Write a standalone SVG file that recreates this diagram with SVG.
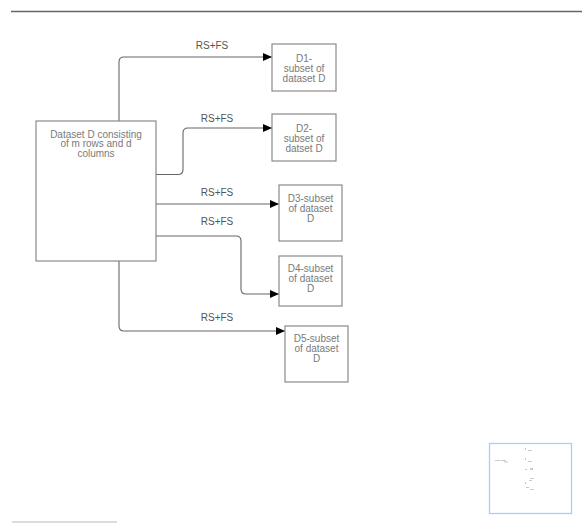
<svg xmlns="http://www.w3.org/2000/svg" width="582" height="523" viewBox="0 0 582 523">
<defs>
<marker id="arr" markerWidth="9" markerHeight="8" refX="9" refY="4" orient="auto" markerUnits="userSpaceOnUse">
<path d="M0,0 L9,4 L0,8 Z" fill="#000"/>
</marker>
<style>
.box{fill:#fff;stroke:#8a8a8a;stroke-width:1.2}
.t{font-family:"Liberation Sans",Arial,sans-serif;font-size:10px;fill:#7a7a7a;text-anchor:middle;dominant-baseline:central}
.lbl{font-family:"Liberation Sans",Arial,sans-serif;font-size:10px;fill:#555;text-anchor:middle;dominant-baseline:central}
.c{fill:none;stroke:#666;stroke-width:1.1;marker-end:url(#arr)}
.mm{fill:#c8c8c8}
</style>
</defs>
<rect width="582" height="523" fill="#fff"/>
<line x1="11" y1="11.5" x2="582" y2="11.5" stroke="#666" stroke-width="1.3"/>
<line x1="12" y1="522" x2="117" y2="522" stroke="#d0d0d0" stroke-width="1.5"/>

<g id="connectors">
<path class="c" d="M119,121 V62 Q119,57 124,57 H272"/>
<path class="c" d="M156,174.5 H178 Q183,174.5 183,169.5 V133 Q183,128 188,128 H272"/>
<path class="c" d="M156,204 H279"/>
<path class="c" d="M156,236 H236 Q241,236 241,241 V289 Q241,294 246,294 H279"/>
<path class="c" d="M119,261 V326 Q119,331 124,331 H285"/>
<text class="lbl" x="212" y="45">RS+FS</text>
<text class="lbl" x="217" y="118">RS+FS</text>
<text class="lbl" x="217" y="192">RS+FS</text>
<text class="lbl" x="217" y="221">RS+FS</text>
<text class="lbl" x="217" y="317">RS+FS</text>
</g>

<g id="dataset">
<rect class="box" x="36" y="121" width="120" height="140"/>
<text class="t" x="96" y="134">Dataset D consisting</text>
<text class="t" x="96" y="143.7">of m rows and d</text>
<text class="t" x="96" y="153.4">columns</text>
</g>
<g id="d1">
<rect class="box" x="272" y="44" width="64" height="47"/>
<text class="t" x="304" y="58.3">D1-</text>
<text class="t" x="304" y="68.3">subset of</text>
<text class="t" x="304" y="78.3">dataset D</text>
</g>
<g id="d2">
<rect class="box" x="272" y="114" width="64" height="47"/>
<text class="t" x="304" y="128.3">D2-</text>
<text class="t" x="304" y="138.3">subset of</text>
<text class="t" x="304" y="148.3">datset D</text>
</g>
<g id="d3">
<rect class="box" x="279" y="185" width="63" height="56"/>
<text class="t" x="310.5" y="198.3">D3-subset</text>
<text class="t" x="310.5" y="208.3">of dataset</text>
<text class="t" x="310.5" y="218.3">D</text>
</g>
<g id="d4">
<rect class="box" x="279" y="256" width="63" height="50"/>
<text class="t" x="310.5" y="268.7">D4-subset</text>
<text class="t" x="310.5" y="278.7">of dataset</text>
<text class="t" x="310.5" y="288.7">D</text>
</g>
<g id="d5">
<rect class="box" x="285" y="326" width="63" height="56"/>
<text class="t" x="316.5" y="338.3">D5-subset</text>
<text class="t" x="316.5" y="348.3">of dataset</text>
<text class="t" x="316.5" y="358.3">D</text>
</g>

<g id="minimap">
<rect x="489.5" y="443.5" width="82" height="70" fill="#fff" stroke="#a6ceff" stroke-width="1.3"/>
<rect class="mm" x="495" y="460" width="5" height="1"/>
<rect class="mm" x="501" y="460" width="5" height="1"/>
<rect class="mm" x="504" y="461.5" width="4" height="1"/>
<rect class="mm" x="525" y="448" width="1" height="2"/>
<rect class="mm" x="528" y="450" width="4" height="1"/>
<rect class="mm" x="525" y="458" width="1" height="2"/>
<rect class="mm" x="528" y="461" width="4" height="1"/>
<rect class="mm" x="525" y="469" width="2" height="1"/>
<rect class="mm" x="530" y="468" width="3" height="2"/>
<rect class="mm" x="530" y="478" width="4" height="1"/>
<rect class="mm" x="529" y="480" width="3" height="1"/>
<rect class="mm" x="525" y="482" width="1" height="2"/>
<rect class="mm" x="526" y="487" width="3" height="1"/>
<rect class="mm" x="530" y="489" width="4" height="1"/>
</g>
</svg>
